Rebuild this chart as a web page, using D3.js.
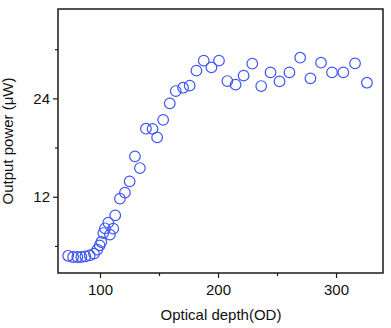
<!DOCTYPE html>
<html>
<head>
<meta charset="utf-8">
<script src="https://cdn.jsdelivr.net/npm/d3@7"></script>
<style>
  body { margin: 0; background: #fff; }
  svg { display: block; font-family: "Liberation Sans", Arial, sans-serif; }
</style>
</head>
<body>
<script>
// optical depth (OD) and output power (uW)
const opticalDepth = [73.0, 77.2, 80.8, 84.2, 87.6, 91.3, 94.9, 97.7, 99.7, 101.1,
  102.8, 104.2, 107.0, 108.4, 111.2, 112.9, 116.9, 121.1, 125.1, 129.6,
  133.8, 138.9, 144.5, 148.4, 153.5, 159.1, 164.2, 170.4, 176.0, 181.7,
  187.9, 194.4, 200.8, 207.9, 214.9, 221.7, 229.0, 236.6, 244.5, 252.1,
  260.5, 269.6, 278.3, 287.3, 296.6, 306.2, 316.1, 326.2];
const outputPower = [4.8, 4.65, 4.65, 4.65, 4.73, 4.85, 5.06, 5.55, 6.07, 6.48,
  7.57, 8.15, 8.84, 7.38, 8.11, 9.73, 11.77, 12.5, 13.88, 16.93,
  15.5, 20.3, 20.28, 19.24, 21.38, 23.39, 24.89, 25.3, 25.55, 27.38,
  28.6, 27.78, 28.6, 26.11, 25.67, 26.77, 28.23, 25.5, 27.17, 26.07,
  27.17, 28.96, 26.44, 28.35, 27.17, 27.17, 28.27, 25.91];
const xMajor = [100, 200, 300];
const xMinor = [150, 250];
const yMajor = [12, 24];
const yMinor = [6, 18, 30];

const width = 391, height = 328;
const margin = {left: 58, right: 8, top: 9, bottom: 55};

const svg = d3.select("body").append("svg")
    .attr("width", width)
    .attr("height", height);

const x = d3.scaleLinear()
    .domain([64.4, 339.8])
    .range([margin.left, width - margin.right]);
const y = d3.scaleLinear()
    .domain([2.7, 34.9])
    .range([height - margin.bottom, margin.top]);

function styleAxis(g) {
    g.select(".domain").remove();
    g.selectAll(".tick line").attr("stroke", "#1a1a1a").attr("stroke-width", 1.2);
    g.selectAll(".tick text")
        .attr("fill", "#111")
        .style("font-size", "15px")
        .style("font-family", "\"Liberation Sans\", Arial, sans-serif");
}

// axes: major ticks with labels, minor ticks shorter
const bottom = `translate(0,${height - margin.bottom})`;
const left = `translate(${margin.left},0)`;

svg.append("g").attr("transform", bottom)
    .call(d3.axisBottom(x).tickValues(xMajor).tickSize(5).tickPadding(6))
    .call(styleAxis);
svg.append("g").attr("transform", bottom)
    .call(d3.axisBottom(x).tickValues(xMinor).tickSize(3).tickFormat(""))
    .call(styleAxis);
svg.append("g").attr("transform", left)
    .call(d3.axisLeft(y).tickValues(yMajor).tickSize(5).tickPadding(3))
    .call(styleAxis);
svg.append("g").attr("transform", left)
    .call(d3.axisLeft(y).tickValues(yMinor).tickSize(3).tickFormat(""))
    .call(styleAxis);

// frame
svg.append("rect")
    .attr("x", margin.left)
    .attr("y", margin.top)
    .attr("width", width - margin.left - margin.right)
    .attr("height", height - margin.top - margin.bottom)
    .attr("fill", "none")
    .attr("stroke", "#1a1a1a")
    .attr("stroke-width", 1.5);

// points
svg.append("g")
    .selectAll("circle")
    .data(opticalDepth)
    .enter().append("circle")
    .attr("cx", d => x(d))
    .attr("cy", (d, i) => y(outputPower[i]))
    .attr("r", 5.3)
    .attr("fill", "none")
    .attr("stroke", "#3d55f5")
    .attr("stroke-width", 1.2);

// axis titles
svg.append("text")
    .attr("x", 221)
    .attr("y", 320)
    .attr("text-anchor", "middle")
    .style("font-size", "15px")
    .attr("fill", "#111")
    .text("Optical depth(OD)");

svg.append("text")
    .attr("transform", "translate(13,141) rotate(-90)")
    .attr("text-anchor", "middle")
    .style("font-size", "15px")
    .attr("fill", "#111")
    .text("Output power (μW)");
</script>
</body>
</html>
